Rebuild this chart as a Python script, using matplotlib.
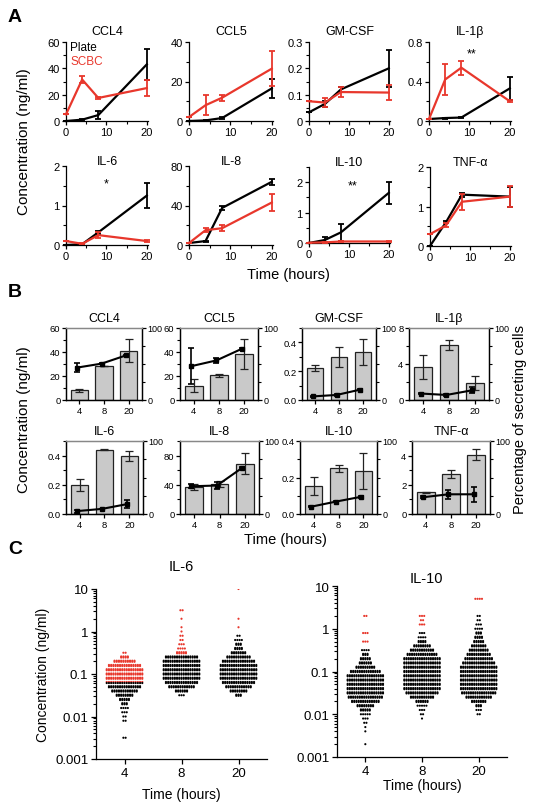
import numpy as np
import matplotlib
matplotlib.use("Agg")
import matplotlib.pyplot as plt
from matplotlib.ticker import AutoMinorLocator, FixedLocator, FixedFormatter, NullFormatter, LogLocator

plt.rcParams['font.family'] = ['Liberation Sans', 'DejaVu Sans']
plt.rcParams['axes.linewidth'] = 0.9
plt.rcParams['xtick.major.width'] = 0.9
plt.rcParams['ytick.major.width'] = 0.9
plt.rcParams['xtick.minor.width'] = 0.8
plt.rcParams['ytick.minor.width'] = 0.8

RED = '#e8372c'

# ---------------- Panel A data ----------------
times_a = [0, 4, 8, 20]
names = ["CCL4", "CCL5", "GM-CSF", "IL-1β", "IL-6", "IL-8", "IL-10", "TNF-α"]
plate_mean = [[0, 1, 4.5, 43], [0, 0.3, 1.5, 16.5], [0.033, 0.065, 0.12, 0.20], [0.02, 0.03, 0.035, 0.33],
              [0, 0.02, 0.32, 1.25], [2, 4, 37.5, 64], [0, 0.1, 0.35, 1.65], [0, 0.6, 1.3, 1.25]]
plate_err = [[0, 0.5, 3, 12], [0, 0.2, 0.3, 5], [0, 0.01, 0.01, 0.07], [0, 0.005, 0.005, 0.12],
             [0, 0.01, 0.03, 0.32], [0, 0.5, 2.5, 3], [0, 0.1, 0.27, 0.37], [0, 0.03, 0.05, 0.25]]
scbc_mean = [[5, 31.5, 17.5, 25], [2, 8, 11.8, 26.5], [0.075, 0.07, 0.11, 0.108], [0.02, 0.42, 0.54, 0.2],
             [0.1, 0.03, 0.25, 0.1], [2, 15, 17, 43], [0.01, 0.02, 0.05, 0.05], [0.3, 0.52, 1.12, 1.25]]
scbc_err = [[0, 3, 0.8, 6], [0, 5, 1.5, 9], [0, 0.017, 0.02, 0.03], [0, 0.16, 0.07, 0.01],
            [0, 0.01, 0.08, 0.02], [0, 2, 3, 9], [0, 0.005, 0.01, 0.01], [0, 0.05, 0.2, 0.27]]
a_ylim = [60, 40, 0.3, 0.8, 2, 80, 2.5, 2]
a_yticks = [[0, 20, 40, 60], [0, 20, 40], [0, 0.1, 0.2, 0.3], [0, 0.4, 0.8],
            [0, 1, 2], [0, 40, 80], [0, 1, 2], [0, 1, 2]]
a_stars = {3: (10.5, 0.68, "**"), 4: (10, 1.55, "*"), 6: (11, 1.9, "**")}

# ---------------- Panel B data ----------------
b_times = ["4", "8", "20"]
bar_mean = [[8, 28.5, 41], [12, 20.5, 38], [0.22, 0.30, 0.335], [3.7, 6.1, 1.9],
            [0.20, 0.44, 0.395], [37, 41.5, 69], [0.155, 0.25, 0.235], [1.5, 2.75, 4.05]]
bar_err = [[1, 0, 9.5], [5.5, 1.5, 12.5], [0.02, 0.07, 0.09], [1.35, 0.55, 0.8],
           [0.04, 0.002, 0.035], [4, 4, 14], [0.05, 0.02, 0.1], [0.03, 0.25, 0.38]]
pct_mean = [[45, 50.5, 62], [47, 55, 71], [5, 7, 14.5], [9, 7, 13.5],
            [4, 7, 13.5], [38, 39, 63.5], [10, 17, 23.5], [23, 27, 27]]
pct_err = [[6, 1, 1], [25, 3, 1], [1, 2, 1], [1, 1, 4],
           [2, 0.5, 5], [3, 5, 1], [1, 1, 1], [1, 6, 10]]
b_ylim = [60, 60, 0.5, 8, 0.5, 100, 0.4, 5]
b_yticks = [[0, 20, 40, 60], [0, 20, 40, 60], [0.0, 0.2, 0.4], [0, 4, 8],
            [0.0, 0.2, 0.4], [0, 40, 80], [0.0, 0.2, 0.4], [0, 2, 4]]

# ---------------- Panel C data (log10 concentration bins and dot counts) ----------------
c_times = ["4", "8", "20"]
il6_4h_lv = [-0.5, -0.6, -0.7, -0.8, -0.9, -1.0, -1.1, -1.2, -1.3, -1.4, -1.5, -1.6, -1.7, -1.8, -1.9, -2.0, -2.1, -2.5]
il6_4h_n = [2, 8, 20, 30, 34, 34, 34, 34, 30, 24, 16, 10, 6, 4, 3, 2, 2, 2]
il6_8h_lv = [0.5, 0.3, 0.1, 0.0, -0.1, -0.2, -0.3, -0.4, -0.5, -0.6, -0.7, -0.8, -0.9, -1.0, -1.1, -1.2, -1.3, -1.4, -1.5]
il6_8h_n = [2, 1, 1, 1, 2, 2, 3, 4, 10, 30, 34, 34, 34, 34, 34, 30, 24, 12, 3]
il6_20h_lv = [1.0, 0.3, 0.1, -0.1, -0.2, -0.3, -0.4, -0.5, -0.6, -0.7, -0.8, -0.9, -1.0, -1.1, -1.2, -1.3, -1.4, -1.5]
il6_20h_n = [1, 1, 1, 2, 4, 6, 8, 14, 22, 30, 34, 34, 34, 34, 30, 24, 16, 6]
il10_4h_lv = [0.3, -0.1, -0.3, -0.5, -0.6, -0.7, -0.8, -0.9, -1.0, -1.1, -1.2, -1.3, -1.4, -1.5, -1.6, -1.7, -1.8, -1.9, -2.0, -2.1, -2.2, -2.3, -2.4, -2.7]
il10_4h_n = [2, 3, 3, 4, 6, 10, 12, 18, 28, 34, 34, 34, 34, 34, 32, 26, 16, 10, 5, 3, 2, 1, 1, 1]
il10_8h_lv = [0.3, 0.2, 0.1, -0.1, -0.2, -0.3, -0.4, -0.5, -0.6, -0.7, -0.8, -0.9, -1.0, -1.1, -1.2, -1.3, -1.4, -1.5, -1.6, -1.7, -1.8, -1.9, -2.0, -2.1]
il10_8h_n = [3, 2, 3, 3, 4, 8, 16, 22, 28, 34, 34, 34, 34, 34, 34, 34, 34, 30, 22, 12, 5, 3, 2, 1]
il10_20h_lv = [0.7, 0.3, 0.2, 0.1, 0.0, -0.1, -0.2, -0.3, -0.4, -0.5, -0.6, -0.7, -0.8, -0.9, -1.0, -1.1, -1.2, -1.3, -1.4, -1.5, -1.6, -1.7, -1.8, -1.9, -2.0]
il10_20h_n = [4, 2, 2, 3, 4, 6, 8, 10, 14, 18, 22, 26, 30, 34, 34, 34, 34, 34, 34, 32, 24, 14, 6, 3, 2]
il6_red_above = [0.063, 0.27, 1.1]
il10_red_above = [0.4, 1.0, 3.0]

# ---------------- figure ----------------
W, H = 536, 812
fig = plt.figure(figsize=(W / 100, H / 100), dpi=100)


def px_axes(l, t, r, b):
    return fig.add_axes([l / W, 1 - b / H, (r - l) / W, (b - t) / H])


def ftext(x, y, s, **kw):
    fig.text(x / W, 1 - y / H, s, **kw)


def fmt(v):
    return ("%g" % v)


# ---------- Panel A ----------
a_boxes = [(66, 43, 148, 122), (189, 43, 273, 122), (309, 43, 390, 122), (429, 43, 511, 122),
           (66, 167, 148, 246), (189, 167, 273, 246), (309, 168, 390, 244), (430, 168, 511, 247)]
for i, (l, t, r, b) in enumerate(a_boxes):
    ax = px_axes(l, t, r, b)
    ax.plot(times_a, plate_mean[i], color='black', lw=1.6, clip_on=False, zorder=3)
    ax.errorbar(times_a, plate_mean[i], yerr=plate_err[i], fmt='none', ecolor='black',
                elinewidth=1.3, capsize=2, capthick=1.3, clip_on=False, zorder=3)
    ax.plot(times_a, scbc_mean[i], color=RED, lw=1.6, clip_on=False, zorder=4)
    ax.errorbar(times_a, scbc_mean[i], yerr=scbc_err[i], fmt='none', ecolor=RED,
                elinewidth=1.3, capsize=2, capthick=1.3, clip_on=False, zorder=4)
    ax.set_xlim(0, 20.3)
    ax.set_ylim(0, a_ylim[i])
    ax.set_xticks([0, 10, 20])
    ax.xaxis.set_minor_locator(FixedLocator([5, 15]))
    ax.set_yticks(a_yticks[i])
    ax.set_yticklabels([fmt(v) for v in a_yticks[i]])
    ax.yaxis.set_minor_locator(AutoMinorLocator(2))
    ax.spines['top'].set_visible(False)
    ax.spines['right'].set_visible(False)
    ax.tick_params(labelsize=8, length=3, pad=1.5)
    ax.tick_params(which='minor', length=2)
    ftext((l + r) / 2, t - 11 if i < 4 else t - 5, names[i], ha='center', va='center', fontsize=9)
    if i in a_stars:
        sx, sy, st = a_stars[i]
        ax.text(sx, sy, st, ha='center', va='center', fontsize=9)
    if i == 0:
        ax.text(1, 56, "Plate", color='black', fontsize=8.5, va='center', ha='left')
        ax.text(1, 45.5, "SCBC", color=RED, fontsize=8.5, va='center', ha='left')

ftext(15, 17, "A", fontsize=14, fontweight='bold', ha='center', va='center')
ftext(24, 142, "Concentration (ng/ml)", rotation=90, ha='center', va='center', fontsize=11)
ftext(288, 275, "Time (hours)", ha='center', va='center', fontsize=10.5)

# ---------- Panel B ----------
b_boxes = [(66, 329, 142, 401), (180, 329, 258, 401), (302, 329, 376, 401), (409, 329, 489, 401),
           (66, 442, 143, 515), (180, 442, 259, 515), (300, 442, 377, 515), (412, 442, 490, 515)]
xb = np.arange(len(b_times))
for i, (l, t, r, b) in enumerate(b_boxes):
    ax = px_axes(l, t, r, b)
    ax.bar(xb, bar_mean[i], width=0.7, color='#c9c9c9', edgecolor='#222222', linewidth=0.9,
           yerr=bar_err[i], capsize=3, error_kw=dict(elinewidth=0.9, capthick=0.9, ecolor='#222222'))
    ax.set_xlim(-0.55, 2.55)
    ax.set_ylim(0, b_ylim[i])
    ax.set_xticks(xb)
    ax.set_xticklabels(b_times)
    ax.set_yticks(b_yticks[i])
    if b_ylim[i] < 1:
        ax.set_yticklabels(["%.1f" % v for v in b_yticks[i]])
    else:
        ax.set_yticklabels([fmt(v) for v in b_yticks[i]])
    ax.yaxis.set_minor_locator(AutoMinorLocator(2))
    ax.tick_params(labelsize=6.8, length=3, pad=1)
    ax.tick_params(which='minor', length=2)
    ax.spines['top'].set_color('#888888')
    ax2 = ax.twinx()
    ax2.errorbar(xb - 0.1, pct_mean[i], yerr=pct_err[i], color='black', marker='s', ms=2.5,
                 lw=1.5, elinewidth=1.2, capsize=2, capthick=1.2)
    ax2.set_ylim(0, 100)
    ax2.set_yticks([0, 100])
    ax2.yaxis.set_minor_locator(FixedLocator([25, 50, 75]))
    ax2.tick_params(labelsize=6.5, length=3, pad=0.8)
    ax2.tick_params(which='minor', length=2)
    ax2.spines['top'].set_color('#888888')
    ftext((l + r) / 2, t - 10, names[i], ha='center', va='center', fontsize=9)

ftext(15, 293, "B", fontsize=14, fontweight='bold', ha='center', va='center')
ftext(24, 420, "Concentration (ng/ml)", rotation=90, ha='center', va='center', fontsize=11)
ftext(520, 420, "Percentage of secreting cells", rotation=90, ha='center', va='center', fontsize=10.5)
ftext(285, 540, "Time (hours)", ha='center', va='center', fontsize=10.5)

# ---------- Panel C ----------
def swarm(ax, cat, levels, counts, thr, dx=0.039, dlv=0.026):
    xs, ys, cs = [], [], []
    for lv, n in zip(levels, counts):
        if n >= 6:
            rows = [(lv + dlv / 2, n // 2), (lv - dlv / 2, n - n // 2)]
        else:
            rows = [(lv, n)]
        for ylv, k in rows:
            for j in range(k):
                xs.append(cat + (j - (k - 1) / 2) * dx)
                ys.append(10 ** ylv)
                cs.append(RED if 10 ** ylv > thr else 'black')
    ax.scatter(xs, ys, s=2.4, c=cs, linewidths=0, zorder=3)


def setup_c(ax, labelpad):
    ax.set_yscale('log')
    ax.set_ylim(0.001, 10)
    ax.set_xlim(-0.5, 2.5)
    ax.set_xticks([0, 1, 2])
    ax.set_xticklabels(c_times)
    ax.yaxis.set_major_locator(FixedLocator([0.001, 0.01, 0.1, 1, 10]))
    ax.yaxis.set_major_formatter(FixedFormatter(["0.001", "0.01", "0.1", "1", "10"]))
    ax.yaxis.set_minor_locator(LogLocator(base=10, subs=np.arange(2, 10)))
    ax.yaxis.set_minor_formatter(NullFormatter())
    ax.spines['top'].set_visible(False)
    ax.spines['right'].set_visible(False)
    ax.tick_params(labelsize=9.5, length=3.5, pad=2)
    ax.tick_params(which='minor', length=2)
    ax.set_xlabel("Time (hours)", fontsize=10, labelpad=labelpad)


ax6 = px_axes(96, 590, 267, 760)
swarm(ax6, 0, il6_4h_lv, il6_4h_n, il6_red_above[0])
swarm(ax6, 1, il6_8h_lv, il6_8h_n, il6_red_above[1])
swarm(ax6, 2, il6_20h_lv, il6_20h_n, il6_red_above[2])
setup_c(ax6, 6)
ax6.set_ylabel("Concentration (ng/ml)", fontsize=10)
ftext(181, 567, "IL-6", ha='center', va='center', fontsize=10.5)

ax10 = px_axes(337, 587, 507, 758)
swarm(ax10, 0, il10_4h_lv, il10_4h_n, il10_red_above[0])
swarm(ax10, 1, il10_8h_lv, il10_8h_n, il10_red_above[1])
swarm(ax10, 2, il10_20h_lv, il10_20h_n, il10_red_above[2])
setup_c(ax10, 1)
ftext(426, 579, "IL-10", ha='center', va='center', fontsize=10.5)

ftext(15, 550, "C", fontsize=14, fontweight='bold', ha='center', va='center')

fig.savefig("out.png", dpi=100)
